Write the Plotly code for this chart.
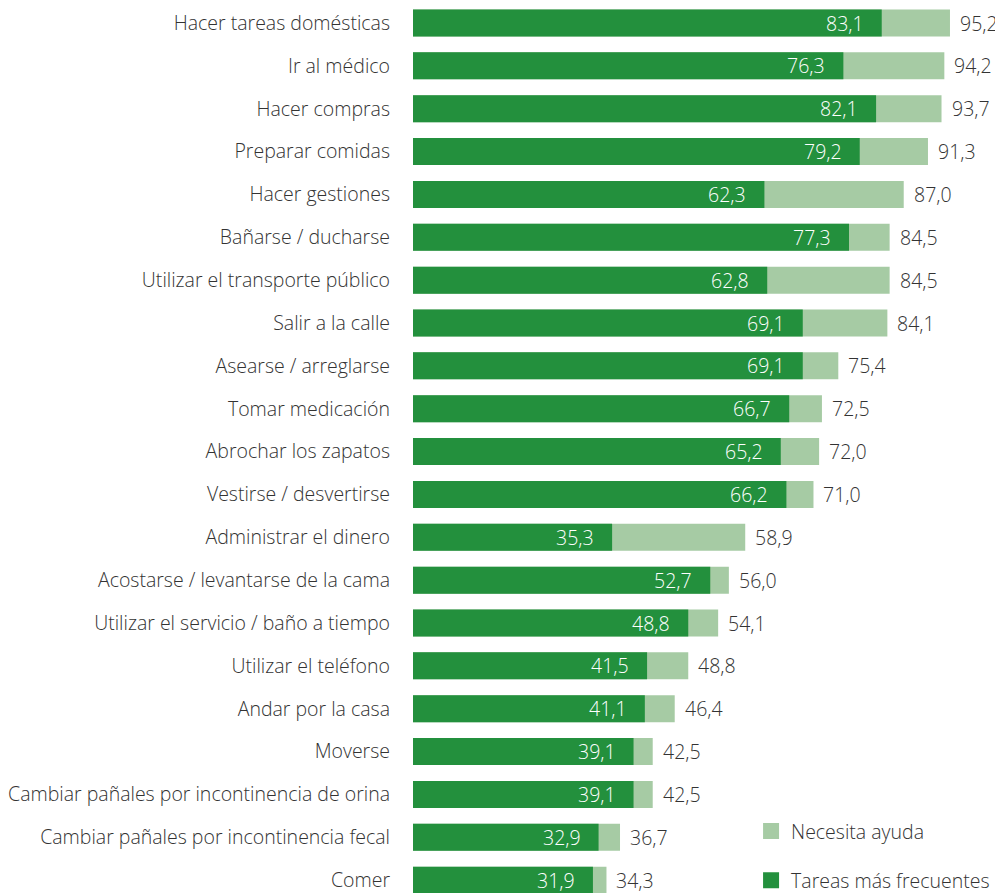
import plotly.graph_objects as go

tareas = [
    "Hacer tareas domésticas",
    "Ir al médico",
    "Hacer compras",
    "Preparar comidas",
    "Hacer gestiones",
    "Bañarse / ducharse",
    "Utilizar el transporte público",
    "Salir a la calle",
    "Asearse / arreglarse",
    "Tomar medicación",
    "Abrochar los zapatos",
    "Vestirse / desvertirse",
    "Administrar el dinero",
    "Acostarse / levantarse de la cama",
    "Utilizar el servicio / baño a tiempo",
    "Utilizar el teléfono",
    "Andar por la casa",
    "Moverse",
    "Cambiar pañales por incontinencia de orina",
    "Cambiar pañales por incontinencia fecal",
    "Comer",
]
necesita_ayuda = [95.2, 94.2, 93.7, 91.3, 87.0, 84.5, 84.5, 84.1, 75.4, 72.5, 72.0,
                  71.0, 58.9, 56.0, 54.1, 48.8, 46.4, 42.5, 42.5, 36.7, 34.3]
frecuentes = [83.1, 76.3, 82.1, 79.2, 62.3, 77.3, 62.8, 69.1, 69.1, 66.7, 65.2,
              66.2, 35.3, 52.7, 48.8, 41.5, 41.1, 39.1, 39.1, 32.9, 31.9]

light = "#a6cba4"
dark = "#23903d"
font_family = "Open Sans, Noto Sans, sans-serif"
fsize = 19.5


def fmt(v):
    return f"{v:.1f}".replace(".", ",")


fig = go.Figure()
fig.add_trace(go.Bar(y=tareas, x=necesita_ayuda, orientation="h",
                     marker=dict(color=light, line=dict(width=0)),
                     width=0.63, showlegend=False, hoverinfo="skip"))
fig.add_trace(go.Bar(y=tareas, x=frecuentes, orientation="h",
                     marker=dict(color=dark, line=dict(width=0)),
                     width=0.63, showlegend=False, hoverinfo="skip"))

# legend entries
fig.add_trace(go.Scatter(x=[None], y=[None], mode="markers", name="Necesita ayuda",
                         marker=dict(symbol="square", size=20, color=light),
                         legendgroup="a"))
fig.add_trace(go.Scatter(x=[None], y=[None], mode="markers", name="Tareas más frecuentes",
                         marker=dict(symbol="square", size=20, color=dark),
                         legendgroup="b"))

for t, a, f in zip(tareas, necesita_ayuda, frecuentes):
    fig.add_annotation(x=f, y=t, text=fmt(f), xanchor="right", xshift=-16,
                       showarrow=False,
                       font=dict(color="white", size=fsize, family=font_family, weight=300))
    fig.add_annotation(x=a, y=t, text=fmt(a), xanchor="left", xshift=8,
                       showarrow=False,
                       font=dict(color="#333333", size=fsize, family=font_family, weight=300))

fig.update_layout(
    width=995, height=885,
    margin=dict(l=405, r=0, t=0, b=0, autoexpand=False),
    barmode="overlay",
    plot_bgcolor="white", paper_bgcolor="white",
    font=dict(family=font_family, size=fsize, color="#333333", weight=300),
    legend=dict(x=0.573, y=0.042, xanchor="left", yanchor="middle",
                tracegroupgap=21, font=dict(size=fsize, color="#333333", weight=300),
                bgcolor="rgba(0,0,0,0)"),
    xaxis=dict(range=[0, 104.6], visible=False, automargin=False),
    yaxis=dict(range=[20.3, -0.35], showgrid=False, zeroline=False, automargin=False,
               ticks="", ticklabelstandoff=22,
               tickfont=dict(size=fsize, color="#333333", weight=300)),
)

fig.write_html("out.html")
